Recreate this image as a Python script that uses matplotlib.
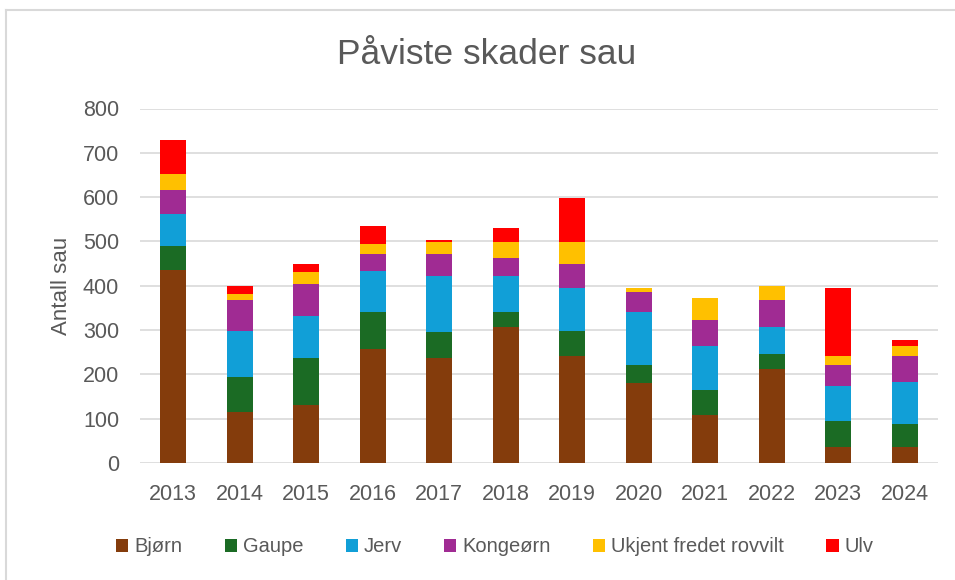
import numpy as np
import matplotlib.pyplot as plt
from matplotlib.lines import Line2D

years = ["2013", "2014", "2015", "2016", "2017", "2018",
         "2019", "2020", "2021", "2022", "2023", "2024"]

bjorn = [435, 114, 131, 258, 236, 308, 241, 181, 109, 213, 36, 36]
gaupe = [55, 81, 105, 82, 59, 32, 58, 41, 55, 32, 59, 51]
jerv = [72, 104, 95, 94, 127, 82, 95, 118, 99, 63, 78, 95]
kongeorn = [54, 68, 72, 37, 49, 40, 55, 45, 59, 59, 49, 59]
ukjent = [36, 14, 27, 23, 27, 36, 49, 9, 50, 32, 19, 22]
ulv = [77, 18, 19, 41, 5, 32, 100, 0, 0, 0, 153, 14]

series = [
    ("Bjørn", bjorn, "#843c0c"),
    ("Gaupe", gaupe, "#1b6b24"),
    ("Jerv", jerv, "#119fd7"),
    ("Kongeørn", kongeorn, "#a02b93"),
    ("Ukjent fredet rovvilt", ukjent, "#ffc000"),
    ("Ulv", ulv, "#ff0000"),
]

plt.rcParams['font.family'] = ['Liberation Sans', 'DejaVu Sans']
grey = "#595959"
W, H = 955, 580

fig = plt.figure(figsize=(9.55, 5.8), dpi=100)
ax = fig.add_axes([140 / W, 1 - 463 / H, 798 / W, 354.5 / H])

x = np.arange(len(years))
bottom = np.zeros(len(years))
for name, vals, col in series:
    vals = np.array(vals, dtype=float)
    ax.bar(x, vals, 0.39, bottom=bottom, color=col, label=name, zorder=3)
    bottom += vals

ax.set_xlim(-0.5, len(years) - 0.5)
ax.set_ylim(0, 800)
ax.set_yticks(range(0, 801, 100))
ax.set_xticks(x)
ax.set_xticklabels(years)
ax.tick_params(length=0, labelsize=15.5, colors=grey)
ax.tick_params(axis='y', pad=15)
ax.tick_params(axis='x', pad=15)
ax.grid(axis='y', color="#d9d9d9", linewidth=1.2, zorder=0)
for s in ax.spines.values():
    s.set_visible(False)

ax.set_ylabel("Antall sau", fontsize=16, color=grey, labelpad=8)
fig.text(487 / W, 1 - 55 / H, "Påviste skader sau", ha='center', va='center',
         fontsize=25.5, color=grey)

fig.legend(loc='center', bbox_to_anchor=(495 / W, 1 - 547 / H), ncol=6,
           frameon=False, fontsize=14.5, labelcolor=grey, handlelength=0.6,
           handleheight=0.6, handletextpad=0.3, columnspacing=2.1)

# chart area border (top and left edges visible)
fig.add_artist(Line2D([6 / W, 6 / W], [0, 1 - 10 / H], transform=fig.transFigure,
                      color="#d9d9d9", linewidth=1.5))
fig.add_artist(Line2D([6 / W, 1], [1 - 10 / H, 1 - 10 / H], transform=fig.transFigure,
                      color="#d9d9d9", linewidth=1.5))

fig.savefig("out.png", dpi=100)
